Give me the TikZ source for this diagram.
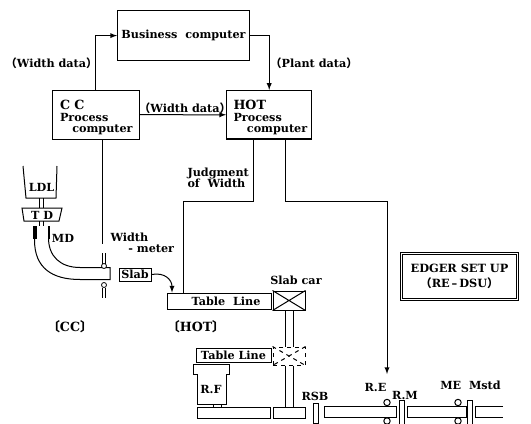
\documentclass[tikz,border=0pt]{standalone}
\usepackage{fontspec}
\setmainfont{DejaVu Serif}
\newfontfamily\cjk{Noto Sans CJK SC}
\newcommand{\fwl}{{\cjk （}}
\newcommand{\fwr}{{\cjk ）}}
\newcommand{\tkl}{{\cjk 〔}}
\newcommand{\tkr}{{\cjk 〕}}
\newcommand{\bigtxt}{\fontsize{9.5}{9}\selectfont}

\tikzset{every picture/.style={line width=0.75pt}}
\tikzset{
	txt/.style={font=\bfseries\fontsize{8.4}{8.6}\selectfont},
	lbl/.style={txt, inner sep=0pt},
	pbox/.style={txt, draw, line width=0.9pt, inner sep=0pt},
	tbl/.style={txt, draw, line width=0.75pt, inner sep=0pt},
	arr/.style={-latex},
}

\begin{document}
\begin{tikzpicture}[x=0.75pt,y=0.75pt,yscale=-1,xscale=1]
	\useasboundingbox (0,0) rectangle (531,424);

	%Computers
	\node[pbox, minimum width=98.8pt, minimum height=37.1pt] (bus) at (183.5,35.6) {Business\ \ computer};
	\node[pbox, minimum width=65pt, minimum height=36.7pt] (cc) at (95.9,114.7) {};
	\node[pbox, minimum width=63.7pt, minimum height=36.4pt] (hot) at (269.2,114.8) {};
	\node[lbl, anchor=north west, align=left] (cctxt) at (59.5,100) {{\bigtxt C C}\\Process\\\hspace{1.1em}computer};
	\node[lbl, anchor=north west, align=left] (hottxt) at (233,100) {{\bigtxt HOT}\\Process\\\hspace{1.2em}computer};

	%Data lines
	\draw[arr] (cc.north) |- (bus.west);
	\draw[arr] (bus.east) -| (hot.north);
	\draw[arr] (cc) -- (hot);
	\node[lbl] (wdata1) at (51.5,63) {\fwl Width data\fwr};
	\node[lbl] (pdata) at (314,63) {\fwl Plant data\fwr};
	\node[lbl] (wdata2) at (185,108) {\fwl Width data\fwr};

	%Slab and table lines
	\node[tbl, minimum width=24pt, minimum height=9.75pt] (slab) at (135,274.5) {Slab};
	\node[tbl, minimum width=78pt, minimum height=12pt] (tl1) at (219,301) {\hspace{10.5pt}Table\ \ Line};
	\draw[arr] (slab.east) .. controls (165,272) and (172,280) .. (tl1.north -| 172,0);
	\node[tbl, minimum width=56.25pt, minimum height=10.5pt] (tl2) at (233.5,355) {Table Line};

	%Judgment of width
	\node[lbl, anchor=north west, align=left] (judg) at (187,167) {Judgment\\of\ \ Width};
	\draw (hot.south -| 253,0) -- (253,201) -| (tl1.north -| 183,0);
	\coordinate (retip) at (387,374);
	\draw[arr] (hot.south -| 285,0) -- (285,201) -| (retip);

	%Edger set up
	\node[draw, double, double distance=1.05pt, line width=0.6pt, inner sep=0pt, minimum width=87pt, minimum height=34.5pt, align=center, font=\bfseries\fontsize{8.5}{11}\selectfont] (dsu) at (459.5,276.5) {EDGER SET UP\\\fwl RE\,--\,DSU\fwr};

	%Ladle and tundish
	\draw (23,166) -- (26,198) -- (56,198) -- (57,166);
	\node[lbl] (ldl) at (41.5,187) {LDL};
	\draw (39,198) -- (39,208) (43,198) -- (43,208);
	\draw (22,208) -- (62,208) -- (59,221) -- (24,221) -- cycle;
	\node[lbl] (td) at (42,215) {T\ D};
	\draw (39,221) -- (39,226) (43,221) -- (43,226);

	%Mould and strand
	\fill (32.5,226) rectangle (37,239);
	\fill (47.5,226) rectangle (49.5,239);
	\node[lbl] (md) at (63,238) {MD};
	\draw (34.5,226) -- (34.5,240) .. controls (34.5,268) and (52,279.5) .. (80,279.5) -- (110,279.5) -- (110,267.5) -- (80,267.5) .. controls (60,267.5) and (48.5,256) .. (48.5,238) -- (48.5,226);

	%Width meter
	\coordinate (wmeter) at (102,244);
	\draw (cc.south -| 102,0) -- (wmeter);
	\draw[line width=0.5pt] (102.5,253) -- (102.5,263.5) (105,253) -- (105,263.5) (102.5,287.5) -- (102.5,298) (105,287.5) -- (105,298);
	\draw[line width=0.6pt, fill=white] (104,266) circle[radius=2.5] (104,285) circle[radius=2.5];
	\node[lbl, anchor=north west, align=left] (wmtxt) at (110,232) {Width\\\hspace{1.6em}- meter};

	%Slab car
	\node[tbl, minimum width=24pt, minimum height=14.25pt] (car1) at (289,300.5) {};
	\draw (car1.north west) -- (car1.south east) (car1.north east) -- (car1.south west);
	\node[lbl] (sctxt) at (296,280) {Slab car};
	\node[tbl, dashed, minimum width=24pt, minimum height=13.5pt] (car2) at (289,356) {};
	\draw[dashed] (car2.north west) -- (car2.south east) (car2.north east) -- (car2.south west);
	\node[tbl, minimum width=24pt, minimum height=8.25pt] (car3) at (289,412.5) {};
	\draw (car1.south -| 285,0) -- (car2.north -| 285,0) (car1.south -| 293,0) -- (car2.north -| 293,0);
	\draw (car2.south -| 285,0) -- (car3.north -| 285,0) (car2.south -| 293,0) -- (car3.north -| 293,0);

	%Reheating furnace
	\draw (197,404) -- (197,374) -- (193,374) -- (193,364) -- (229,364) -- (229,374) -- (226,374) -- (226,404) -- cycle;
	\draw (213,404) rectangle (221,407);
	\node[lbl] (rf) at (211,389) {R.F};

	%Rolling line
	\node[tbl, minimum width=54.75pt, minimum height=8.25pt] (tb1) at (233.5,412.5) {};
	\node[tbl, minimum width=3.75pt, minimum height=15pt] (rsb) at (315.5,413) {};
	\node[tbl, minimum width=54pt, minimum height=8.25pt] (tb2) at (360,411.5) {};
	\node[tbl, minimum width=3.75pt, minimum height=19.5pt] (rm) at (401.5,413) {};
	\node[tbl, minimum width=44.25pt, minimum height=8.25pt] (tb3) at (436.5,411.5) {};
	\node[tbl, minimum width=3.75pt, minimum height=19.5pt] (mstd) at (469.5,413) {};
	\draw (503,406) -- (475,406) -- (475,417) -- (503,417);
	\draw[fill=white] (387,402.5) circle[radius=3.2] (387,421) circle[radius=3.2];
	\draw[fill=white] (458,402.5) circle[radius=3.2] (458,421) circle[radius=3.2];
	\node[lbl] (rsbtxt) at (315,396) {RSB};
	\node[lbl] (retxt) at (375.5,387) {R.E};
	\node[lbl] (rmtxt) at (405,395) {R.M};
	\node[lbl] (mtxt) at (470.5,385) {ME\ \ Mstd};

	%Plant names
	\node[lbl, font=\bfseries\bigtxt] (ccname) at (70,327) {\tkl CC\tkr};
	\node[lbl, font=\bfseries\bigtxt] (hotname) at (196,327) {\tkl HOT\tkr};

\end{tikzpicture}
\end{document}
